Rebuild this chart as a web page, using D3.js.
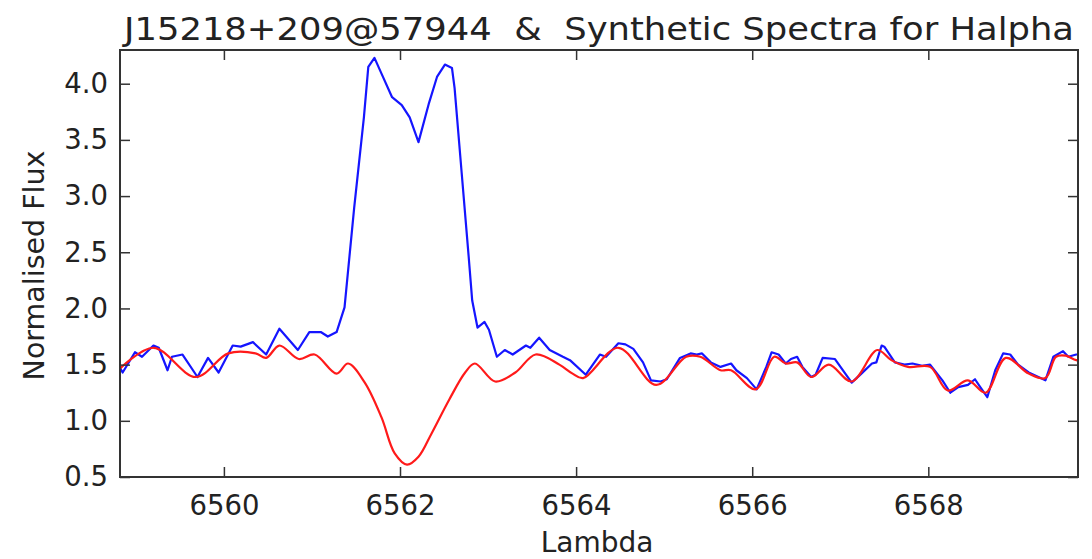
<!DOCTYPE html>
<html>
<head>
<meta charset="utf-8">
<script src="https://cdn.jsdelivr.net/npm/d3@7"></script>
<style>
  body { margin: 0; background: #fff; }
  text { font-family: "DejaVu Sans", sans-serif; fill: #222; }
</style>
</head>
<body>
<script>
// observed spectrum (blue)
const obsLambda = [6558.80, 6558.85, 6558.99, 6559.07, 6559.20, 6559.26, 6559.36, 6559.41, 6559.53, 6559.70,
  6559.82, 6559.94, 6560.10, 6560.19, 6560.33, 6560.48, 6560.63, 6560.84, 6560.97, 6561.10,
  6561.18, 6561.28, 6561.37, 6561.48, 6561.59, 6561.64, 6561.71, 6561.79, 6561.91, 6562.02,
  6562.11, 6562.21, 6562.33, 6562.42, 6562.51, 6562.59, 6562.62, 6562.70, 6562.78, 6562.82,
  6562.88, 6562.96, 6563.01, 6563.10, 6563.19, 6563.28, 6563.43, 6563.48, 6563.58, 6563.70,
  6563.85, 6563.93, 6564.11, 6564.27, 6564.34, 6564.48, 6564.56, 6564.65, 6564.76, 6564.85,
  6564.96, 6565.03, 6565.18, 6565.30, 6565.37, 6565.43, 6565.53, 6565.64, 6565.76, 6565.82,
  6565.94, 6566.05, 6566.16, 6566.22, 6566.30, 6566.38, 6566.44, 6566.51, 6566.57, 6566.67,
  6566.72, 6566.80, 6566.94, 6567.13, 6567.24, 6567.36, 6567.41, 6567.47, 6567.50, 6567.62,
  6567.73, 6567.82, 6567.93, 6568.02, 6568.16, 6568.25, 6568.34, 6568.45, 6568.53, 6568.59,
  6568.67, 6568.76, 6568.85, 6568.93, 6569.02, 6569.14, 6569.33, 6569.42, 6569.53, 6569.59,
  6569.68, 6569.77];
const obsFlux = [1.50, 1.43, 1.61, 1.57, 1.67, 1.65, 1.45, 1.57, 1.59, 1.39,
  1.56, 1.43, 1.67, 1.66, 1.70, 1.59, 1.82, 1.63, 1.79, 1.79,
  1.75, 1.79, 2.01, 2.90, 3.70, 4.15, 4.23, 4.09, 3.88, 3.81,
  3.70, 3.48, 3.83, 4.06, 4.17, 4.14, 3.96, 3.21, 2.46, 2.07,
  1.83, 1.88, 1.81, 1.57, 1.63, 1.59, 1.67, 1.65, 1.74, 1.63,
  1.57, 1.54, 1.41, 1.59, 1.57, 1.69, 1.68, 1.64, 1.52, 1.36,
  1.35, 1.37, 1.56, 1.60, 1.59, 1.60, 1.52, 1.48, 1.51, 1.45,
  1.38, 1.28, 1.48, 1.61, 1.59, 1.51, 1.55, 1.57, 1.48, 1.39,
  1.41, 1.56, 1.55, 1.34, 1.42, 1.51, 1.52, 1.67, 1.66, 1.52,
  1.50, 1.51, 1.49, 1.50, 1.36, 1.25, 1.30, 1.32, 1.37, 1.30,
  1.21, 1.45, 1.60, 1.59, 1.50, 1.43, 1.36, 1.57, 1.62, 1.57,
  1.59, 1.59];

// synthetic spectrum (red)
const synLambda = [6558.80, 6559.20, 6559.68, 6560.05, 6560.36, 6560.48, 6560.63, 6560.85, 6561.03, 6561.28,
  6561.41, 6561.60, 6561.79, 6561.94, 6562.08, 6562.21, 6562.36, 6562.56, 6562.74, 6562.85,
  6563.08, 6563.31, 6563.54, 6563.81, 6563.96, 6564.08, 6564.48, 6564.91, 6565.25, 6565.41,
  6565.64, 6565.76, 6566.04, 6566.25, 6566.38, 6566.51, 6566.67, 6566.87, 6567.13, 6567.42,
  6567.58, 6567.77, 6568.02, 6568.22, 6568.45, 6568.65, 6568.88, 6569.14, 6569.33, 6569.45,
  6569.56, 6569.68, 6569.77];
const synFlux = [1.45, 1.65, 1.39, 1.60, 1.60, 1.56, 1.67, 1.55, 1.59, 1.42,
  1.51, 1.34, 1.03, 0.71, 0.61, 0.68, 0.89, 1.19, 1.43, 1.51,
  1.35, 1.43, 1.59, 1.50, 1.42, 1.38, 1.65, 1.32, 1.57, 1.57,
  1.45, 1.45, 1.28, 1.57, 1.51, 1.52, 1.39, 1.50, 1.35, 1.63,
  1.54, 1.48, 1.48, 1.27, 1.36, 1.25, 1.56, 1.42, 1.38, 1.57,
  1.58, 1.54, 1.54];

const xTicks = [6560, 6562, 6564, 6566, 6568];
const yTicks = [0.5, 1.0, 1.5, 2.0, 2.5, 3.0, 3.5, 4.0];

const W = 1092, H = 559;
const margin = {left: 120, right: 14, top: 50, bottom: 82};
const iw = W - margin.left - margin.right, ih = H - margin.top - margin.bottom;

const svg = d3.select('body').append('svg')
    .attr('width', W)
    .attr('height', H);

const x = d3.scaleLinear().domain([6558.82, 6569.70]).range([0, iw]);
const y = d3.scaleLinear().domain([0.5, 4.3]).range([ih, 0]);

const g = svg.append('g').attr('transform', `translate(${margin.left},${margin.top})`);

g.append('clipPath').attr('id', 'clip')
    .append('rect').attr('width', iw).attr('height', ih);

const line = d3.line().x(d => x(d[0])).y(d => y(d[1]));

const obs = obsLambda.map((l, i) => [l, obsFlux[i]]);
const syn = synLambda.map((l, i) => [l, synFlux[i]]);

g.append('path').datum(obs)
    .attr('clip-path', 'url(#clip)')
    .attr('fill', 'none').attr('stroke', '#1515ff').attr('stroke-width', 2.2)
    .attr('stroke-linejoin', 'round')
    .attr('d', line);

g.append('path').datum(syn)
    .attr('clip-path', 'url(#clip)')
    .attr('fill', 'none').attr('stroke', '#ff1a1a').attr('stroke-width', 2.2)
    .attr('d', line.curve(d3.curveCatmullRom.alpha(0.5)));

// axes, ticks pointing inwards on all four sides
const fmt = d3.format('.1f');
const axBottom = g.append('g').attr('transform', `translate(0,${ih})`)
    .call(d3.axisBottom(x).tickValues(xTicks).tickSizeInner(-10).tickSizeOuter(0).tickPadding(18).tickFormat(d3.format('d')));
const axTop = g.append('g')
    .call(d3.axisTop(x).tickValues(xTicks).tickSizeInner(-10).tickSizeOuter(0).tickFormat(''));
const axLeft = g.append('g')
    .call(d3.axisLeft(y).tickValues(yTicks).tickSizeInner(-10).tickSizeOuter(0).tickPadding(12).tickFormat(fmt));
const axRight = g.append('g').attr('transform', `translate(${iw},0)`)
    .call(d3.axisRight(y).tickValues(yTicks).tickSizeInner(-10).tickSizeOuter(0).tickFormat(''));

[axBottom, axTop, axLeft, axRight].forEach(a => {
    a.selectAll('.domain').remove();
    a.selectAll('line').attr('stroke', '#333').attr('stroke-width', 1.5);
    a.selectAll('text').style('font-size', '27.5px').attr('fill', '#222');
});

g.append('rect').attr('width', iw).attr('height', ih)
    .attr('fill', 'none').attr('stroke', '#333').attr('stroke-width', 2);

svg.append('text')
    .attr('x', margin.left + iw / 2).attr('y', 40)
    .attr('text-anchor', 'middle')
    .attr('textLength', 950)
    .attr('lengthAdjust', 'spacingAndGlyphs')
    .style('font-size', '32px')
    .text('J15218+209@57944\u00a0\u00a0&\u00a0\u00a0Synthetic Spectra for Halpha');

svg.append('text')
    .attr('x', margin.left + iw / 2 - 2).attr('y', 552)
    .attr('text-anchor', 'middle')
    .style('font-size', '28px')
    .text('Lambda');

svg.append('text')
    .attr('transform', `translate(44,${margin.top + ih / 2 + 2}) rotate(-90)`)
    .attr('text-anchor', 'middle')
    .style('font-size', '28.5px')
    .text('Normalised Flux');
</script>
</body>
</html>
